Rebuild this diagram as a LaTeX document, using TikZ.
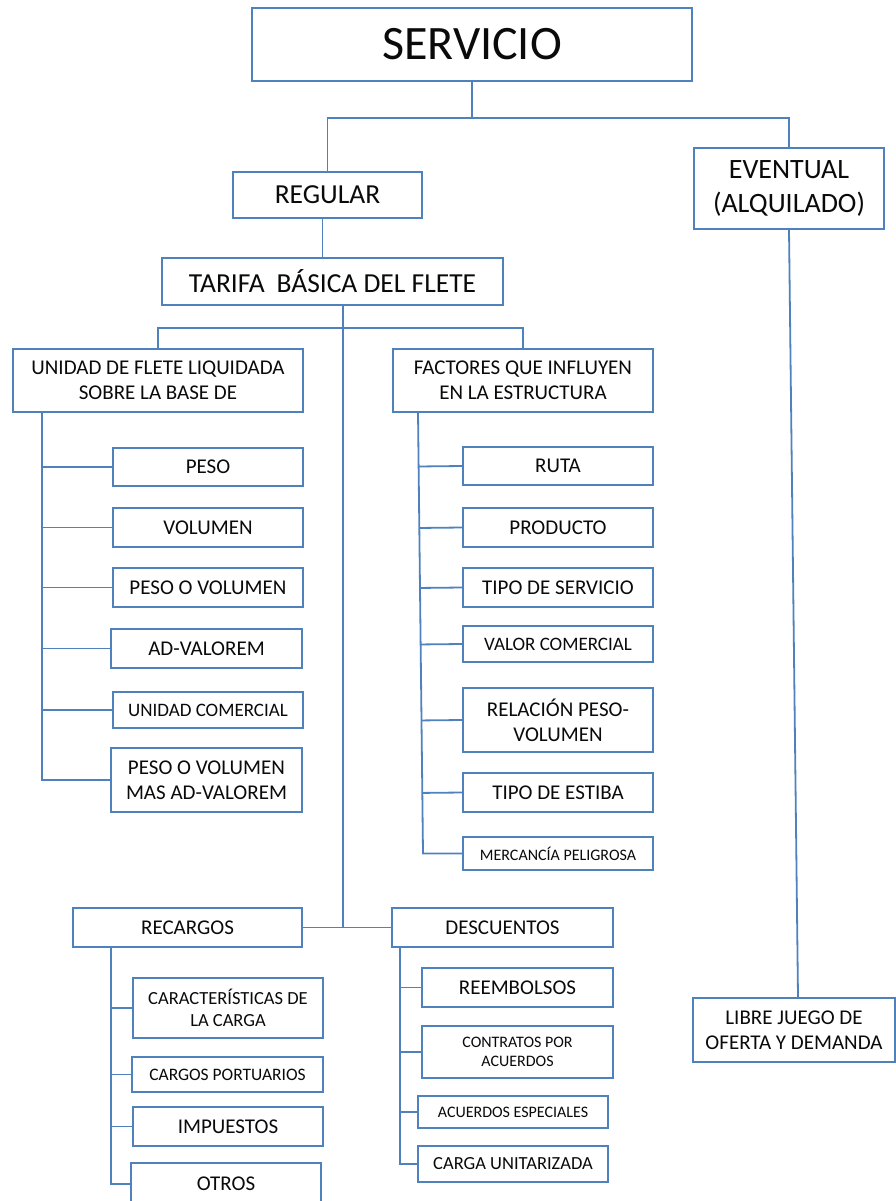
\documentclass[tikz,border=0pt]{standalone}
\usepackage{fontspec}
\setmainfont{Carlito}
\usetikzlibrary{calc}
\definecolor{lnblue}{RGB}{79,129,189}
\definecolor{txtc}{RGB}{10,10,10}
\newcommand\fszA{\fontsize{48}{58}\selectfont}
\newcommand\fszB{\fontsize{27.5}{33.5}\selectfont}
\newcommand\fszBB{\fontsize{28}{33.5}\selectfont}
\newcommand\fszC{\fontsize{21}{25}\selectfont}
\newcommand\fszD{\fontsize{19}{23}\selectfont}
\newcommand\fszE{\fontsize{18.5}{22.5}\selectfont}
\newcommand\fszF{\fontsize{16}{19.5}\selectfont}
\newcommand\fszH{\fontsize{17.5}{21}\selectfont}
\newcommand\fszG{\fontsize{16}{19}\selectfont}
\tikzset{
  bx/.style 2 args={draw=lnblue, line width=1.7pt, fill=white, inner sep=0pt,
    align=center, text=txtc, rectangle, minimum width=#1pt, minimum height=#2pt},
  ln/.style={draw=lnblue, line width=1.8pt}
}
\begin{document}
\begin{tikzpicture}[x=1pt,y=-1pt]
\useasboundingbox (0,0) rectangle (896,1201);
\clip (0,0) rectangle (896,1201);
% level 1-2
\node[bx={440}{73}, font=\fszA] (serv) at (472,44.5) {SERVICIO};
\node[bx={189}{46}, font=\fszB] (reg) at (327.5,195) {REGULAR};
\node[bx={190}{81}, font=\fszBB] (evt) at (789,188.5) {EVENTUAL\\(ALQUILADO)};
\node[bx={341}{47}, font=\fszB] (tar) at (332.5,281.5) {TARIFA\hspace{0.2em} BÁSICA DEL FLETE};
% level 3
\node[bx={290}{63}, font=\fszC] (uni) at (158,380.5) {UNIDAD DE FLETE LIQUIDADA\\SOBRE LA BASE DE};
\node[bx={260}{63}, font=\fszC] (fac) at (523,380.5) {FACTORES QUE INFLUYEN\\EN LA ESTRUCTURA};
% left column
\node[bx={190}{38}, font=\fszC] (peso) at (208,467) {PESO};
\node[bx={190}{39}, font=\fszC] (vol) at (208,527.5) {VOLUMEN};
\node[bx={190}{39}, font=\fszC] (pov) at (208,587.5) {PESO O VOLUMEN};
\node[bx={191}{39}, font=\fszC] (adv) at (206.5,648.5) {AD-VALOREM};
\node[bx={190}{36}, font=\fszD] (ucom) at (208,710) {UNIDAD COMERCIAL};
\node[bx={191}{64}, font=\fszC] (povm) at (206.5,780) {PESO O VOLUMEN\\MAS AD-VALOREM};
% right column
\node[bx={190}{38}, font=\fszC] (ruta) at (558,466) {RUTA};
\node[bx={190}{39}, font=\fszC] (prod) at (558,527.5) {PRODUCTO};
\node[bx={190}{39}, font=\fszC] (tser) at (558,587.5) {TIPO DE SERVICIO};
\node[bx={190}{36}, font=\fszD] (vcom) at (558,644) {VALOR COMERCIAL};
\node[bx={190}{64}, font=\fszC] (rel) at (558,720) {RELACIÓN PESO-\\VOLUMEN};
\node[bx={190}{39}, font=\fszC] (test) at (558,792.5) {TIPO DE ESTIBA};
\node[bx={190}{33}, font=\fszF] (merc) at (558,853.5) {MERCANCÍA PELIGROSA};
% bottom
\node[bx={229}{39}, font=\fszC] (rec) at (187.5,927.5) {RECARGOS};
\node[bx={221}{39}, font=\fszC] (desc) at (502.5,927.5) {DESCUENTOS};
\node[bx={190}{60}, font=\fszE] (car) at (228,1008) {CARACTERÍSTICAS DE\\LA CARGA};
\node[bx={191}{35}, font=\fszH] (cpor) at (227.5,1074.5) {CARGOS PORTUARIOS};
\node[bx={190}{39}, font=\fszC] (imp) at (228,1126.5) {IMPUESTOS};
\node[bx={190}{42}, font=\fszC] (otr) at (226,1184) {OTROS};
\node[bx={191}{39}, font=\fszC] (reem) at (517.5,987.5) {REEMBOLSOS};
\node[bx={191}{52}, font=\fszG] (cont) at (517.5,1052) {CONTRATOS POR\\ACUERDOS};
\node[bx={190}{32}, font=\fszG] (aesp) at (513,1112) {ACUERDOS ESPECIALES};
\node[bx={190}{36}, font=\fszE] (cuni) at (513,1164) {CARGA UNITARIZADA};
\node[bx={202}{64}, font=\fszC] (libre) at (794,1030) {LIBRE JUEGO DE\\OFERTA Y DEMANDA};
% connectors
\coordinate (j1) at (472,118);
\draw[ln] (serv.south) -- (j1);
\draw[ln] (reg.north) |- (j1) -| (evt.north);
\draw[ln] ([xshift=-5pt]reg.south) -- ([xshift=-5pt]reg.south |- tar.north);
\coordinate (j2) at (343,328);
\coordinate (hub) at (343,927.5);
\draw[ln] (tar.south -| j2) -- (hub);
\draw[ln] (uni.north) |- (j2) -| (fac.north);
\draw[ln] (rec.east) -- (desc.west);
\coordinate (us) at (42,412);
\draw[ln] (us) |- (povm.west);
\foreach \n in {peso,vol,pov,adv,ucom} \draw[ln] (us |- \n.west) -- (\n.west);
\coordinate (fa) at (418,412);
\coordinate (fb) at (423,853.5);
\draw[ln] (fa) -- (fb) -- (merc.west);
\foreach \n in {ruta,prod,tser,vcom,rel,test} \draw[ln] ($(fa)!(\n.west)!(fb)$) -- (\n.west);
\coordinate (rs) at (111,947);
\draw[ln] (rs) |- (otr.west);
\foreach \n in {car,cpor,imp} \draw[ln] (rs |- \n.west) -- (\n.west);
\coordinate (ds) at (400,947);
\draw[ln] (ds) |- (cuni.west);
\foreach \n in {reem,cont,aesp} \draw[ln] (ds |- \n.west) -- (\n.west);
\draw[ln] (evt.south) -- ([xshift=4pt]libre.north);
\end{tikzpicture}
\end{document}
